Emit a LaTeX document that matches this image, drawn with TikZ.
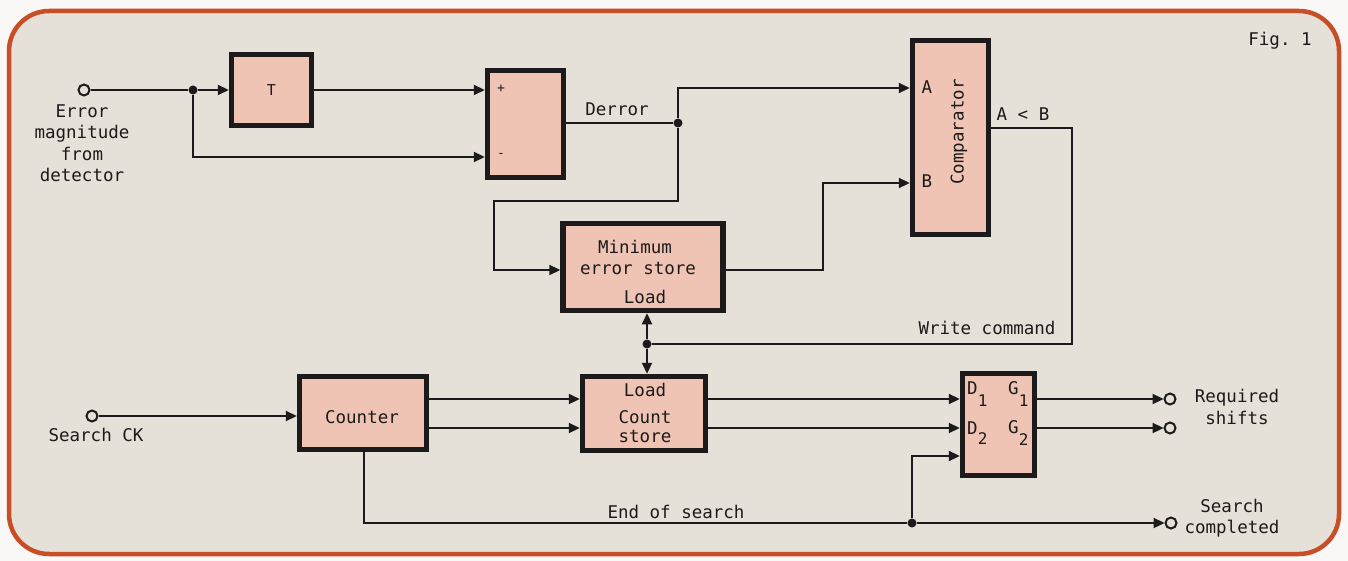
\documentclass[tikz,border=0pt]{standalone}
\usepackage{fontspec}
\setmonofont{DejaVu Sans Mono}
\usetikzlibrary{arrows.meta}
\definecolor{bg}{RGB}{229,225,217}
\definecolor{boxfill}{RGB}{240,196,180}
\definecolor{framec}{RGB}{200,78,40}
\definecolor{ink}{RGB}{28,26,26}
\definecolor{paper}{RGB}{250,248,246}
\begin{document}
\begin{tikzpicture}[x=1pt,y=-1pt,
  blk/.style={draw=ink, fill=boxfill, line width=5.5pt, inner sep=0pt, outer sep=2.75pt},
  wire/.style={draw=ink, line width=2.2pt},
  arr/.style={wire, -{Triangle[length=11pt,width=10pt]}},
  lbl/.style={font=\ttfamily\fontsize{17.5}{21.5}\selectfont, text=ink, inner sep=0pt},
  small/.style={font=\ttfamily\fontsize{13}{15}\selectfont, text=ink, inner sep=0pt},
  term/.style={circle, draw=ink, fill=bg, line width=2pt, minimum size=11pt, inner sep=0pt},
  jdot/.style={circle, fill=ink, minimum size=9pt, inner sep=0pt},
]
\fill[paper] (0,0) rectangle (1348,561);
\useasboundingbox (0,0) rectangle (1348,561);
\draw[framec, line width=4.5pt, fill=bg, rounded corners=40pt] (9,11) rectangle (1339,554);

% blocks
\node[blk, minimum width=80pt, minimum height=71pt] (T) at (271.5,90) {};
\node[blk, minimum width=76pt, minimum height=107pt] (Sub) at (525.5,124) {};
\node[blk, minimum width=76pt, minimum height=194pt] (Comp) at (950.5,137.5) {};
\node[blk, minimum width=160pt, minimum height=87pt] (MinErr) at (643,267) {};
\node[blk, minimum width=127pt, minimum height=73pt] (Counter) at (363,413) {};
\node[blk, minimum width=123pt, minimum height=74pt] (CS) at (644,413.5) {};
\node[blk, minimum width=72pt, minimum height=102pt] (D) at (998.5,424.5) {};

% terminals and junctions
\node[term] (inE) at (84,90) {};
\node[term] (inS) at (92,416) {};
\node[term] (outG1) at (1170,399) {};
\node[term] (outG2) at (1170,428) {};
\node[term] (outSC) at (1171,523) {};
\node[jdot] (j1) at (193,90) {};
\node[jdot] (j2) at (678,123) {};
\node[jdot] (j3) at (647,344) {};
\node[jdot] (j4) at (912,523) {};

% port levels and bends
\coordinate (sm) at (0,157);
\coordinate (pa) at (0,88);
\coordinate (pm) at (0,270);
\coordinate (pab) at (0,128);
\coordinate (q1) at (0,399);
\coordinate (q2) at (0,428);
\coordinate (q3) at (0,456);
\coordinate (c1) at (494,201);
\coordinate (c2) at (823,183);
\coordinate (c3) at (1072,344);
\coordinate (c4) at (364,523);

% connectors
\draw[wire] (inE) -- (j1);
\draw[arr] (j1) -- (T.west);
\draw[arr] (T.east) -- (T.east -| Sub.west);
\draw[arr] (j1) |- (Sub.west |- sm);
\draw[wire] (Sub.east |- j2) -- (j2);
\draw[arr] (j2) |- (Comp.west |- pa);
\draw[arr] (j2) |- (c1) |- (MinErr.west |- pm);
\draw[arr] (MinErr.east |- pm) -| (c2) -- (Comp.west |- c2);
\draw[wire] (Comp.east |- pab) -| (c3) -- (j3);
\draw[arr] (j3) -- (MinErr.south -| j3);
\draw[arr] (j3) -- (CS.north -| j3);
\draw[arr] (inS) -- (Counter.west |- inS);
\draw[arr] (Counter.east |- q1) -- (CS.west |- q1);
\draw[arr] (Counter.east |- q2) -- (CS.west |- q2);
\draw[arr] (CS.east |- q1) -- (D.west |- q1);
\draw[arr] (CS.east |- q2) -- (D.west |- q2);
\draw[wire] (Counter.south -| c4) -- (c4) -- (j4);
\draw[arr] (j4) -- (outSC);
\draw[arr] (j4) |- (D.west |- q3);
\draw[arr] (D.east |- outG1) -- (outG1);
\draw[arr] (D.east |- outG2) -- (outG2);

% labels
\node[lbl, align=center] (tE) at (82,143) {Error\\magnitude\\from\\detector};
\node[lbl] (tS) at (96,435) {Search CK};
\node[font=\ttfamily\fontsize{15}{17}\selectfont, text=ink, inner sep=0pt] (tT) at (T) {T};
\node[small] (tp) at (501,89) {+};
\node[small] (tm) at (501,155) {-};
\node[lbl] (tDerr) at (617,109) {Derror};
\node[lbl] (tA) at (927,87) {A};
\node[lbl] (tB) at (927,181) {B};
\node[lbl, rotate=90] (tComp) at (959,132) {Comparator};
\node[lbl] (tAB) at (1023,114) {A < B};
\node[lbl] (tMin1) at (635,247) {Minimum};
\node[lbl] (tMin2) at (638,268) {error store};
\node[lbl] (tMin3) at (645,297) {Load};
\node[lbl] (tWC) at (987,328) {Write command};
\node[lbl] (tCS1) at (645,390) {Load};
\node[lbl] (tCS2) at (645,417) {Count};
\node[lbl] (tCS3) at (645,436) {store};
\node[lbl] (tCnt) at (362,417) {Counter};
\node[lbl] (tEnd) at (676,512) {End of search};
\node[lbl, anchor=base west] (tD1) at (967,394) {D\raisebox{-12pt}{\fontsize{16}{18}\selectfont 1}};
\node[lbl, anchor=base west] (tG1) at (1008,394) {G\raisebox{-12pt}{\fontsize{16}{18}\selectfont 1}};
\node[lbl, anchor=base west] (tD2) at (967,434) {D\raisebox{-10pt}{\fontsize{16}{18}\selectfont 2}};
\node[lbl, anchor=base west] (tG2) at (1008,433) {G\raisebox{-12pt}{\fontsize{16}{18}\selectfont 2}};
\node[lbl, align=center] (tReq) at (1237,407) {Required\\shifts};
\node[lbl, align=center] (tSC) at (1232,518) {Search\\completed};
\node[lbl] (tFig) at (1280,41) {Fig. 1};
\end{tikzpicture}
\end{document}
